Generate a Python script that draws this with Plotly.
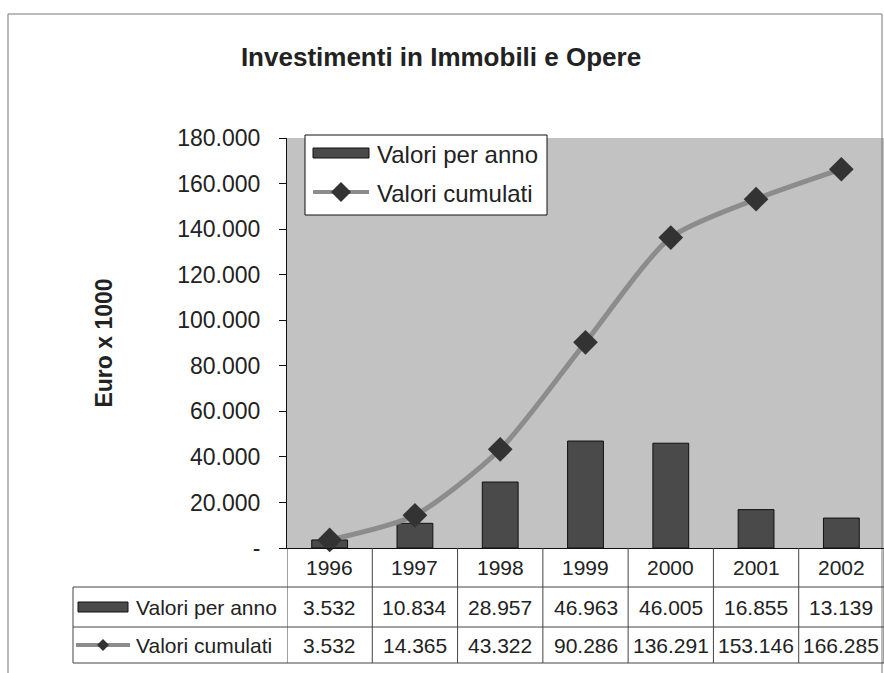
import plotly.graph_objects as go

# data (Euro x 1000)
anni = ['1996', '1997', '1998', '1999', '2000', '2001', '2002']
valori_per_anno = [3532, 10834, 28957, 46963, 46005, 16855, 13139]
valori_cumulati = [3532, 14365, 43322, 90286, 136291, 153146, 166285]
y_ticks = [0, 20000, 40000, 60000, 80000, 100000, 120000, 140000, 160000, 180000]
serie = ['Valori per anno', 'Valori cumulati']

FONT = 'Arial, Liberation Sans, sans-serif'
W, H = 884, 673
# plot area in pixels
L, R, T, B = 287, 884, 138, 548

BAR_C, BAR_LINE = '#4a4a4a', '#111111'
LINE_C, MARK_C = '#8c8c8c', '#333333'
TXT = '#222222'


def fmt(v):
    # italian thousands separator, zero shown as a dash
    return '-' if v == 0 else f'{v:,}'.replace(',', '.')


def px_x(px):
    return (px - L) / (R - L)


def px_y(py):
    return (B - py) / (B - T)


fig = go.Figure()

fig.add_trace(go.Bar(
    x=anni, y=valori_per_anno, name=serie[0], width=0.42,
    marker=dict(color=BAR_C, line=dict(color=BAR_LINE, width=1)),
))
fig.add_trace(go.Scatter(
    x=anni, y=valori_cumulati, name=serie[1], mode='lines+markers',
    line=dict(color=LINE_C, width=5, shape='spline', smoothing=0.7),
    marker=dict(symbol='diamond', size=19, color=MARK_C),
    cliponaxis=False,
))

shapes = []
annotations = []

# outer frame
shapes.append(dict(type='rect', xref='paper', yref='paper',
                   x0=px_x(8), x1=px_x(882), y0=px_y(720), y1=px_y(14),
                   line=dict(color='#777777', width=1), layer='below'))


def key_bar(x0, x1, yc, h):
    shapes.append(dict(type='rect', xref='paper', yref='paper',
                       x0=px_x(x0), x1=px_x(x1), y0=px_y(yc + h / 2), y1=px_y(yc - h / 2),
                       fillcolor=BAR_C, line=dict(color=BAR_LINE, width=1)))


def key_line(x0, x1, yc, lw, d):
    shapes.append(dict(type='line', xref='paper', yref='paper',
                       x0=px_x(x0), x1=px_x(x1), y0=px_y(yc), y1=px_y(yc),
                       line=dict(color=LINE_C, width=lw)))
    cx = (x0 + x1) / 2
    path = (f'M {px_x(cx - d)} {px_y(yc)} L {px_x(cx)} {px_y(yc - d)} '
            f'L {px_x(cx + d)} {px_y(yc)} L {px_x(cx)} {px_y(yc + d)} Z')
    shapes.append(dict(type='path', xref='paper', yref='paper', path=path,
                       fillcolor=MARK_C, line=dict(width=0)))


def label(x, y, text, font, xref='paper', xanchor='center'):
    annotations.append(dict(x=x, y=px_y(y), xref=xref, yref='paper', text=text,
                            xanchor=xanchor, yanchor='middle', showarrow=False, font=font))


# legend box
shapes.append(dict(type='rect', xref='paper', yref='paper',
                   x0=px_x(305), x1=px_x(547), y0=px_y(215), y1=px_y(135),
                   fillcolor='white', line=dict(color='#111111', width=1)))
key_bar(313, 369, 153, 10)
key_line(313, 369, 192, 4, 10)
lfont = dict(family=FONT, size=24, color=TXT)
for yc, name in zip([154, 193], serie):
    label(px_x(375), yc, name, lfont, xanchor='left')

# data table lines
line_c = dict(color='#444444', width=1)
for i in range(len(anni) + 1):
    shapes.append(dict(type='line', xref='x', yref='paper',
                       x0=i - 0.5, x1=i - 0.5, y0=px_y(B), y1=px_y(663), line=line_c))
for py in [587, 627, 663]:
    shapes.append(dict(type='line', xref='paper', yref='paper',
                       x0=px_x(73), x1=px_x(884), y0=px_y(py), y1=px_y(py), line=line_c))
shapes.append(dict(type='line', xref='paper', yref='paper',
                   x0=px_x(73), x1=px_x(73), y0=px_y(587), y1=px_y(663), line=line_c))

# legend keys inside the table
key_bar(78, 128, 607, 10)
key_line(76, 130, 645, 4, 6)

tfont = dict(family=FONT, size=21, color=TXT)
for i, anno in enumerate(anni):
    label(i, 567, anno, tfont, xref='x')
    label(i, 607, fmt(valori_per_anno[i]), tfont, xref='x')
    label(i, 645, fmt(valori_cumulati[i]), tfont, xref='x')
for yc, name in zip([607, 645], serie):
    label(px_x(134), yc, name, tfont, xanchor='left')

fig.update_layout(
    width=W, height=H,
    margin=dict(l=L, r=W - R, t=T, b=H - B),
    paper_bgcolor='white',
    plot_bgcolor='#c2c2c2',
    font=dict(family=FONT, color=TXT),
    title=dict(text='<b>Investimenti in Immobili e Opere</b>', x=441 / W, xref='container',
               y=1 - 57 / H, yanchor='middle', xanchor='center',
               font=dict(family=FONT, size=26, color=TXT)),
    showlegend=False,
    bargap=0.58,
    shapes=shapes,
    annotations=annotations,
)

fig.update_xaxes(type='category', range=[-0.5, 6.5], showticklabels=False,
                 showline=True, linecolor='#111111', linewidth=1, ticks='',
                 showgrid=False, zeroline=False, fixedrange=True)
fig.update_yaxes(range=[0, 180000], tickvals=y_ticks, ticktext=[fmt(v) for v in y_ticks],
                 showline=True, linecolor='#111111', linewidth=1,
                 ticks='outside', ticklen=7, tickcolor='#111111',
                 ticklabelstandoff=14,
                 tickfont=dict(family=FONT, size=23, color=TXT),
                 showgrid=False, zeroline=False,
                 title=dict(text='<b>Euro x 1000</b>', standoff=58,
                            font=dict(family=FONT, size=23, color=TXT)))

fig.write_html('out.html', config={'displayModeBar': False},
               post_script="document.body.style.margin='0';")
